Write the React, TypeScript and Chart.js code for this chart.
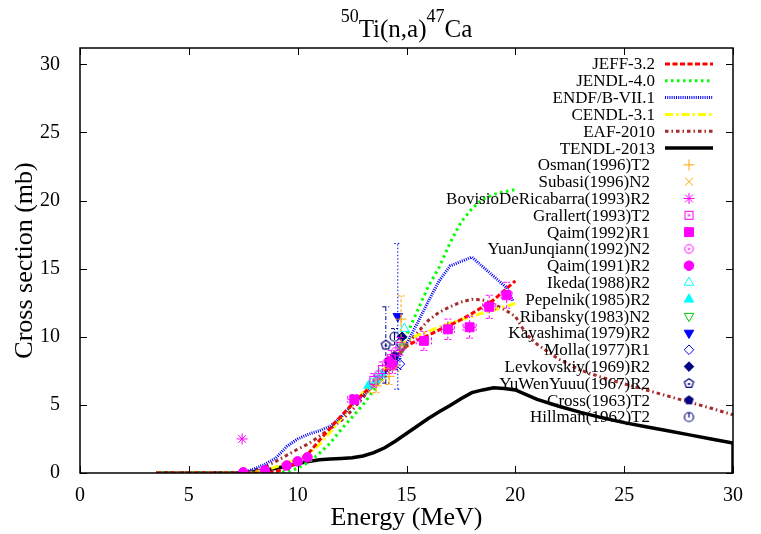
import React, { useEffect, useRef } from 'react';
import { Chart, registerables } from 'chart.js';
import { drawPoint } from 'chart.js/helpers';

Chart.register(...registerables);

const FONT = '"Liberation Serif", "Times New Roman", Times, serif';

// ---- axes ----
const xTicks = [0, 5, 10, 15, 20, 25, 30];
const yTicks = [0, 5, 10, 15, 20, 25, 30];
const xMin = 0, xMax = 30, yMin = 0, yMax = 31.2;

// ---- evaluated libraries ----
const jeffE = [3.5, 8.5, 9, 9.5, 10, 10.5, 11, 11.5, 12, 12.5, 13, 13.5, 14, 14.5, 15, 15.5, 16, 16.5, 17, 17.5, 18, 18.5, 19, 19.5, 20];
const jeffXS = [0, 0, 0.1, 0.35, 0.8, 1.45, 2.4, 3.3, 4.2, 5.05, 5.8, 6.6, 7.4, 8.4, 9.3, 9.75, 10.1, 10.5, 10.85, 11.25, 11.7, 12.2, 12.7, 13.4, 14.1];

const jendlE = [3.5, 8.5, 9, 9.5, 10, 10.5, 11, 11.5, 12, 12.5, 13, 13.5, 14, 14.5, 15, 15.5, 16, 16.5, 17, 17.5, 18, 18.5, 19, 19.5, 20];
const jendlXS = [0, 0, 0.02, 0.1, 0.35, 0.8, 1.45, 2.2, 3.2, 4.1, 5.0, 6.1, 7.3, 8.7, 10.1, 11.9, 13.7, 15.1, 16.9, 18.4, 19.4, 20.1, 20.45, 20.65, 20.8];

const endfE = [3.5, 7.5, 8, 8.5, 9, 9.5, 10, 10.5, 11, 11.5, 12, 12.5, 13, 13.5, 14, 14.5, 15, 15.5, 16, 16.5, 17, 18, 19.6, 19.9];
const endfXS = [0, 0, 0.3, 0.65, 1.1, 1.95, 2.5, 2.85, 3.1, 3.45, 4.1, 5.0, 5.7, 6.4, 7.2, 8.0, 9.5, 11.0, 12.6, 14.1, 15.2, 15.85, 13.6, 12.6];

const cendlE = [3.5, 7.5, 8, 8.5, 9, 9.5, 10, 10.5, 11, 11.5, 12, 12.5, 13, 13.5, 14, 14.5, 15, 15.5, 16, 16.5, 17, 17.5, 18, 18.5, 19, 19.5, 20];
const cendlXS = [0, 0, 0.05, 0.2, 0.45, 0.75, 1.0, 1.4, 2.1, 3.0, 4.0, 5.0, 5.9, 6.8, 7.7, 8.8, 9.7, 10.1, 10.4, 10.7, 11.0, 11.25, 11.5, 11.75, 11.95, 12.2, 12.45];

const eafE = [3.5, 7, 7.5, 8, 8.5, 9, 9.5, 10, 10.5, 11, 11.5, 12, 12.5, 13, 13.5, 14, 14.5, 15, 15.5, 16, 16.5, 17, 17.5, 18, 18.5, 19, 19.5, 20, 20.5, 21, 22, 23, 24, 25, 26, 27, 28, 29, 30];
const eafXS = [0, 0, 0.05, 0.2, 0.45, 0.85, 1.3, 1.75, 2.15, 2.7, 3.25, 3.85, 4.6, 5.55, 6.5, 7.5, 8.5, 9.4, 10.3, 11.2, 11.8, 12.2, 12.55, 12.75, 12.7, 12.4, 12.0, 11.5, 10.2, 9.45, 8.35, 7.55, 7.0, 6.55, 6.1, 5.65, 5.2, 4.75, 4.27];

const tendlE = [3.5, 7, 7.5, 8, 8.5, 9, 9.5, 10, 10.5, 11, 11.5, 12, 12.5, 13, 13.5, 14, 14.5, 15, 15.5, 16, 16.5, 17, 17.5, 18, 18.5, 19, 19.5, 20, 21, 22, 23, 24, 25, 26, 27, 28, 29, 30, 30];
const tendlXS = [0, 0, 0.02, 0.1, 0.2, 0.35, 0.5, 0.7, 0.85, 0.97, 1.03, 1.07, 1.12, 1.25, 1.5, 1.85, 2.35, 2.9, 3.45, 4.0, 4.5, 4.95, 5.45, 5.9, 6.1, 6.25, 6.2, 6.1, 5.4, 4.9, 4.45, 4.05, 3.7, 3.4, 3.1, 2.8, 2.5, 2.2, 0];

// ---- experimental data ----
const osmanE = [13.6, 14.2, 14.75];
const osmanXS = [6.4, 7.1, 11.3];
const osmanErr = [0.5, 0.6, 1.7];

const subasiE = [13.3, 13.9, 14.5];
const subasiXS = [6.0, 6.8, 7.7];

const bovisioE = [7.45];
const bovisioXS = [2.5];

const grallertE = [13.5, 13.9, 14.3, 14.7];
const grallertXS = [6.8, 7.6, 8.4, 9.3];
const grallertErr = [0.5, 0.55, 0.6, 0.65];

const qaim92E = [12.6, 14.35, 15.8, 16.9, 17.9, 18.8, 19.6];
const qaim92XS = [5.4, 7.9, 9.7, 10.55, 10.7, 12.2, 13.05];
const qaim92ErrE = [0.3, 0.1, 0.35, 0.3, 0.3, 0.3, 0.25];
const qaim92ErrXS = [0.35, 0.6, 0.7, 0.75, 0.8, 0.85, 0.95];

const yuanE = [13.7, 14.1, 14.5];
const yuanXS = [7.2, 8.1, 8.9];

const qaim91E = [7.5, 8.5, 9.5, 10.0, 10.45, 14.2];
const qaim91XS = [0.05, 0.2, 0.55, 0.85, 1.15, 8.2];

const ikedaE = [13.4, 13.75, 14.9];
const ikedaXS = [6.6, 7.3, 10.6];

const pepelnikE = [13.25, 13.6, 13.9];
const pepelnikXS = [6.4, 6.8, 7.2];

const ribanskyE = [14.8];
const ribanskyXS = [9.2];

const kayashimaE = [14.6];
const kayashimaXS = [11.5];
const kayashimaErr = [5.35];

const mollaE = [14.7];
const mollaXS = [8.0];
const mollaErr = [0.4];

const levkovskiyE = [14.8];
const levkovskiyXS = [10.0];

const yuwenE = [14.05];
const yuwenXS = [9.4];
const yuwenErr = [2.8];

const crossE = [14.45];
const crossXS = [8.6];

const hillmanE = [14.45];
const hillmanXS = [10.0];
const hillmanErr = [0.6];

const pts = (xs: number[], ys: number[]) => xs.map((x, i) => ({ x, y: ys[i] }));

function makeMarker(draw: (c: CanvasRenderingContext2D, m: number) => void, size = 13) {
  const cv = document.createElement('canvas');
  cv.width = size;
  cv.height = size;
  const c = cv.getContext('2d')!;
  draw(c, size / 2);
  return cv;
}

function pentPath(c: CanvasRenderingContext2D, m: number, r: number) {
  c.beginPath();
  for (let k = 0; k < 5; k++) {
    const a = -Math.PI / 2 + (k * 2 * Math.PI) / 5;
    const px = m + r * Math.cos(a), py = m + r * Math.sin(a);
    if (k === 0) c.moveTo(px, py); else c.lineTo(px, py);
  }
  c.closePath();
}

const frameAndTicks = {
  id: 'frameAndTicks',
  afterDatasetsDraw(chart: any) {
    const { ctx, chartArea: a, scales } = chart;
    ctx.save();
    ctx.strokeStyle = '#000';
    ctx.lineWidth = 1.5;
    ctx.setLineDash([]);
    ctx.strokeRect(a.left, a.top, a.right - a.left, a.bottom - a.top);
    ctx.lineWidth = 1;
    const L = 7;
    xTicks.forEach((v) => {
      const px = Math.round(scales.x.getPixelForValue(v)) + 0.5;
      ctx.beginPath();
      ctx.moveTo(px, a.bottom); ctx.lineTo(px, a.bottom - L);
      ctx.moveTo(px, a.top); ctx.lineTo(px, a.top + L);
      ctx.stroke();
    });
    yTicks.forEach((v) => {
      const py = Math.round(scales.y.getPixelForValue(v)) + 0.5;
      ctx.beginPath();
      ctx.moveTo(a.left, py); ctx.lineTo(a.left + L, py);
      ctx.moveTo(a.right, py); ctx.lineTo(a.right - L, py);
      ctx.stroke();
    });
    ctx.restore();
  },
};

const errorBars = {
  id: 'errorBars',
  afterDatasetsDraw(chart: any) {
    const { ctx, scales } = chart;
    const sx = scales.x, sy = scales.y;
    chart.data.datasets.forEach((ds: any) => {
      if (!ds.errY && !ds.errX) return;
      ctx.save();
      ctx.strokeStyle = ds.errColor || ds.borderColor;
      ctx.lineWidth = 1;
      ctx.setLineDash(ds.errDash || [3, 2]);
      ds.data.forEach((p: any, i: number) => {
        const px = sx.getPixelForValue(p.x), py = sy.getPixelForValue(p.y);
        ctx.beginPath();
        if (ds.errY && ds.errY[i]) {
          const y1 = sy.getPixelForValue(p.y - ds.errY[i]);
          const y2 = sy.getPixelForValue(p.y + ds.errY[i]);
          ctx.moveTo(px, y1); ctx.lineTo(px, y2);
          ctx.moveTo(px - 3.5, y1); ctx.lineTo(px + 3.5, y1);
          ctx.moveTo(px - 3.5, y2); ctx.lineTo(px + 3.5, y2);
        }
        if (ds.errX && ds.errX[i]) {
          const x1 = sx.getPixelForValue(p.x - ds.errX[i]);
          const x2 = sx.getPixelForValue(p.x + ds.errX[i]);
          ctx.moveTo(x1, py); ctx.lineTo(x2, py);
          ctx.moveTo(x1, py - 3.5); ctx.lineTo(x1, py + 3.5);
          ctx.moveTo(x2, py - 3.5); ctx.lineTo(x2, py + 3.5);
        }
        ctx.stroke();
      });
      ctx.restore();
    });
  },
};

const textPlugin = {
  id: 'texts',
  afterDraw(chart: any) {
    const { ctx, chartArea: a } = chart;
    const cx = (a.left + a.right) / 2;
    ctx.save();
    ctx.fillStyle = '#000';
    ctx.textBaseline = 'alphabetic';
    // title with superscripts
    const parts = [
      { t: '50', sup: true },
      { t: 'Ti(n,a)', sup: false },
      { t: '47', sup: true },
      { t: 'Ca', sup: false },
    ];
    const big = `25px ${FONT}`, small = `18px ${FONT}`;
    let total = 0;
    parts.forEach((p) => { ctx.font = p.sup ? small : big; total += ctx.measureText(p.t).width; });
    let x = cx - total / 2;
    ctx.textAlign = 'left';
    parts.forEach((p) => {
      ctx.font = p.sup ? small : big;
      ctx.fillText(p.t, x, p.sup ? 22 : 37);
      x += ctx.measureText(p.t).width;
    });
    // axis titles
    ctx.font = `26px ${FONT}`;
    ctx.textAlign = 'center';
    ctx.fillText('Energy (MeV)', cx, 525);
    ctx.save();
    ctx.translate(32, (a.top + a.bottom) / 2);
    ctx.rotate(-Math.PI / 2);
    ctx.fillText('Cross section (mb)', 0, 0);
    ctx.restore();

    // legend
    ctx.font = `17px ${FONT}`;
    ctx.textAlign = 'right';
    ctx.textBaseline = 'middle';
    chart.data.datasets.forEach((ds: any, i: number) => {
      const y = 64 + i * 16.81;
      if (ds.showLine) {
        ctx.fillStyle = '#000';
        ctx.fillText(ds.label, 655, y + 1);
        ctx.save();
        ctx.strokeStyle = ds.borderColor;
        ctx.lineWidth = ds.borderWidth;
        ctx.setLineDash(ds.borderDash || []);
        ctx.beginPath();
        ctx.moveTo(665, y); ctx.lineTo(713, y);
        ctx.stroke();
        ctx.restore();
      } else {
        ctx.fillStyle = '#000';
        ctx.fillText(ds.label, 650, y + 1);
        ctx.save();
        ctx.fillStyle = ds.backgroundColor;
        ctx.strokeStyle = ds.borderColor;
        ctx.lineWidth = ds.pointBorderWidth || 1;
        ctx.setLineDash([]);
        drawPoint(ctx, {
          pointStyle: ds.pointStyle,
          rotation: ds.pointRotation || 0,
          radius: ds.pointRadius,
          borderWidth: ds.pointBorderWidth || 1,
        } as any, 689, y);
        ctx.restore();
      }
    });
    ctx.restore();
  },
};

export default function App() {
  const ref = useRef<HTMLCanvasElement | null>(null);

  useEffect(() => {
    if (!ref.current) return;
    const NAVY = '#000080';
    const MAG = '#ff00ff';

    const sqDot = makeMarker((c, m) => {
      c.strokeStyle = MAG; c.lineWidth = 1;
      c.strokeRect(m - 4, m - 4, 8, 8);
      c.fillStyle = MAG; c.fillRect(m - 1, m - 1, 2, 2);
    });
    const circDot = makeMarker((c, m) => {
      c.strokeStyle = MAG; c.lineWidth = 1;
      c.beginPath(); c.arc(m, m, 4.3, 0, Math.PI * 2); c.stroke();
      c.fillStyle = MAG; c.fillRect(m - 1, m - 1, 2, 2);
    });
    const pentOpen = makeMarker((c, m) => {
      c.strokeStyle = NAVY; c.lineWidth = 1.2;
      pentPath(c, m, 4.8); c.stroke();
      c.fillStyle = NAVY; c.fillRect(m - 1, m - 0.5, 2, 2);
    });
    const pentFill = makeMarker((c, m) => {
      c.fillStyle = NAVY;
      pentPath(c, m, 5); c.fill();
    });
    const circLine = makeMarker((c, m) => {
      c.strokeStyle = NAVY; c.lineWidth = 1.2;
      c.beginPath(); c.arc(m, m, 4.5, 0, Math.PI * 2); c.stroke();
      c.beginPath(); c.moveTo(m, m - 4.5); c.lineTo(m, m + 0.5); c.stroke();
    });

    const line = (label: string, xs: number[], ys: number[], color: string, dash: number[], width = 3) => ({
      type: 'line',
      label,
      data: pts(xs, ys),
      showLine: true,
      borderColor: color,
      backgroundColor: color,
      borderWidth: width,
      borderDash: dash,
      borderCapStyle: 'butt',
      pointRadius: 0,
      tension: 0,
      fill: false,
      order: 1,
    });
    const scat = (label: string, xs: number[], ys: number[], color: string, style: any, radius: number, filled: boolean, extra: any = {}) => ({
      type: 'scatter',
      label,
      data: pts(xs, ys),
      showLine: false,
      borderColor: color,
      backgroundColor: filled ? color : 'rgba(0,0,0,0)',
      pointStyle: style,
      pointRadius: radius,
      pointBorderWidth: 1,
      pointBackgroundColor: filled ? color : 'rgba(0,0,0,0)',
      pointBorderColor: color,
      order: 0,
      ...extra,
    });

    const datasets: any[] = [
      line('JEFF-3.2', jeffE, jeffXS, '#ff0000', [5, 2.5]),
      line('JENDL-4.0', jendlE, jendlXS, '#00ff00', [2.5, 3.5]),
      line('ENDF/B-VII.1', endfE, endfXS, '#0000ff', [1, 1.2]),
      line('CENDL-3.1', cendlE, cendlXS, '#ffff00', [8, 3, 2.5, 3]),
      line('EAF-2010', eafE, eafXS, '#a52a2a', [3.5, 3, 1.5, 3]),
      line('TENDL-2013', tendlE, tendlXS, '#000000', [], 3.5),
      scat('Osman(1996)T2', osmanE, osmanXS, '#ffa500', 'cross', 5.5, false, { errY: osmanErr, errDash: [3, 2] }),
      scat('Subasi(1996)N2', subasiE, subasiXS, '#ffa500', 'crossRot', 5.5, false),
      scat('BovisioDeRicabarra(1993)R2', bovisioE, bovisioXS, MAG, 'star', 5.5, false),
      scat('Grallert(1993)T2', grallertE, grallertXS, MAG, sqDot, 5, false, { errY: grallertErr, errDash: [3, 2] }),
      scat('Qaim(1992)R1', qaim92E, qaim92XS, MAG, 'rect', 6.3, true, { errY: qaim92ErrXS, errX: qaim92ErrE, errDash: [3, 2] }),
      scat('YuanJunqiann(1992)N2', yuanE, yuanXS, MAG, circDot, 5, false),
      scat('Qaim(1991)R2', qaim91E, qaim91XS, MAG, 'circle', 4.8, true),
      scat('Ikeda(1988)R2', ikedaE, ikedaXS, '#00ffff', 'triangle', 5.5, false),
      scat('Pepelnik(1985)R2', pepelnikE, pepelnikXS, '#00ffff', 'triangle', 5.5, true),
      scat('Ribansky(1983)N2', ribanskyE, ribanskyXS, '#00cc00', 'triangle', 5.5, false, { pointRotation: 180 }),
      scat('Kayashima(1979)R2', kayashimaE, kayashimaXS, '#0000ff', 'triangle', 5.5, true, { pointRotation: 180, errY: kayashimaErr, errDash: [1.5, 2] }),
      scat('Molla(1977)R1', mollaE, mollaXS, '#0000ff', 'rectRot', 4.8, false, { errY: mollaErr, errDash: [1.5, 2] }),
      scat('Levkovskiy(1969)R2', levkovskiyE, levkovskiyXS, NAVY, 'rectRot', 4.8, true),
      scat('YuWenYuuu(1967)R2', yuwenE, yuwenXS, NAVY, pentOpen, 5, false, { errY: yuwenErr, errDash: [4, 2, 1, 2] }),
      scat('Cross(1963)T2', crossE, crossXS, NAVY, pentFill, 5, true),
      scat('Hillman(1962)T2', hillmanE, hillmanXS, NAVY, circLine, 5, false, { errY: hillmanErr, errDash: [3, 2] }),
    ];

    const tickFont = { family: FONT, size: 20 };
    const chart = new Chart(ref.current, {
      type: 'scatter',
      data: { datasets },
      options: {
        animation: false,
        responsive: false,
        maintainAspectRatio: false,
        layout: { padding: { left: 0, top: 48, right: 28, bottom: 0 } },
        plugins: {
          legend: { display: false },
          title: { display: false },
          tooltip: { enabled: false },
        },
        scales: {
          x: {
            type: 'linear',
            min: xMin,
            max: xMax,
            grid: { display: false },
            border: { display: false },
            ticks: { color: '#000', font: tickFont, padding: 3, maxRotation: 0, autoSkip: false },
            afterBuildTicks: (s: any) => { s.ticks = xTicks.map((v) => ({ value: v })); },
            afterFit: (s: any) => { s.height = 61; },
          },
          y: {
            type: 'linear',
            min: yMin,
            max: yMax,
            grid: { display: false },
            border: { display: false },
            ticks: { color: '#000', font: tickFont, padding: 12, autoSkip: false },
            afterBuildTicks: (s: any) => { s.ticks = yTicks.map((v) => ({ value: v })); },
            afterFit: (s: any) => { s.width = 80; },
          },
        },
      } as any,
      plugins: [errorBars, frameAndTicks, textPlugin],
    });
    return () => chart.destroy();
  }, []);

  return (
    <div style={{ position: 'fixed', left: 0, top: 0, width: 761, height: 534, background: '#fff' }}>
      <canvas ref={ref} width={761} height={534} style={{ width: 761, height: 534 }} />
    </div>
  );
}
